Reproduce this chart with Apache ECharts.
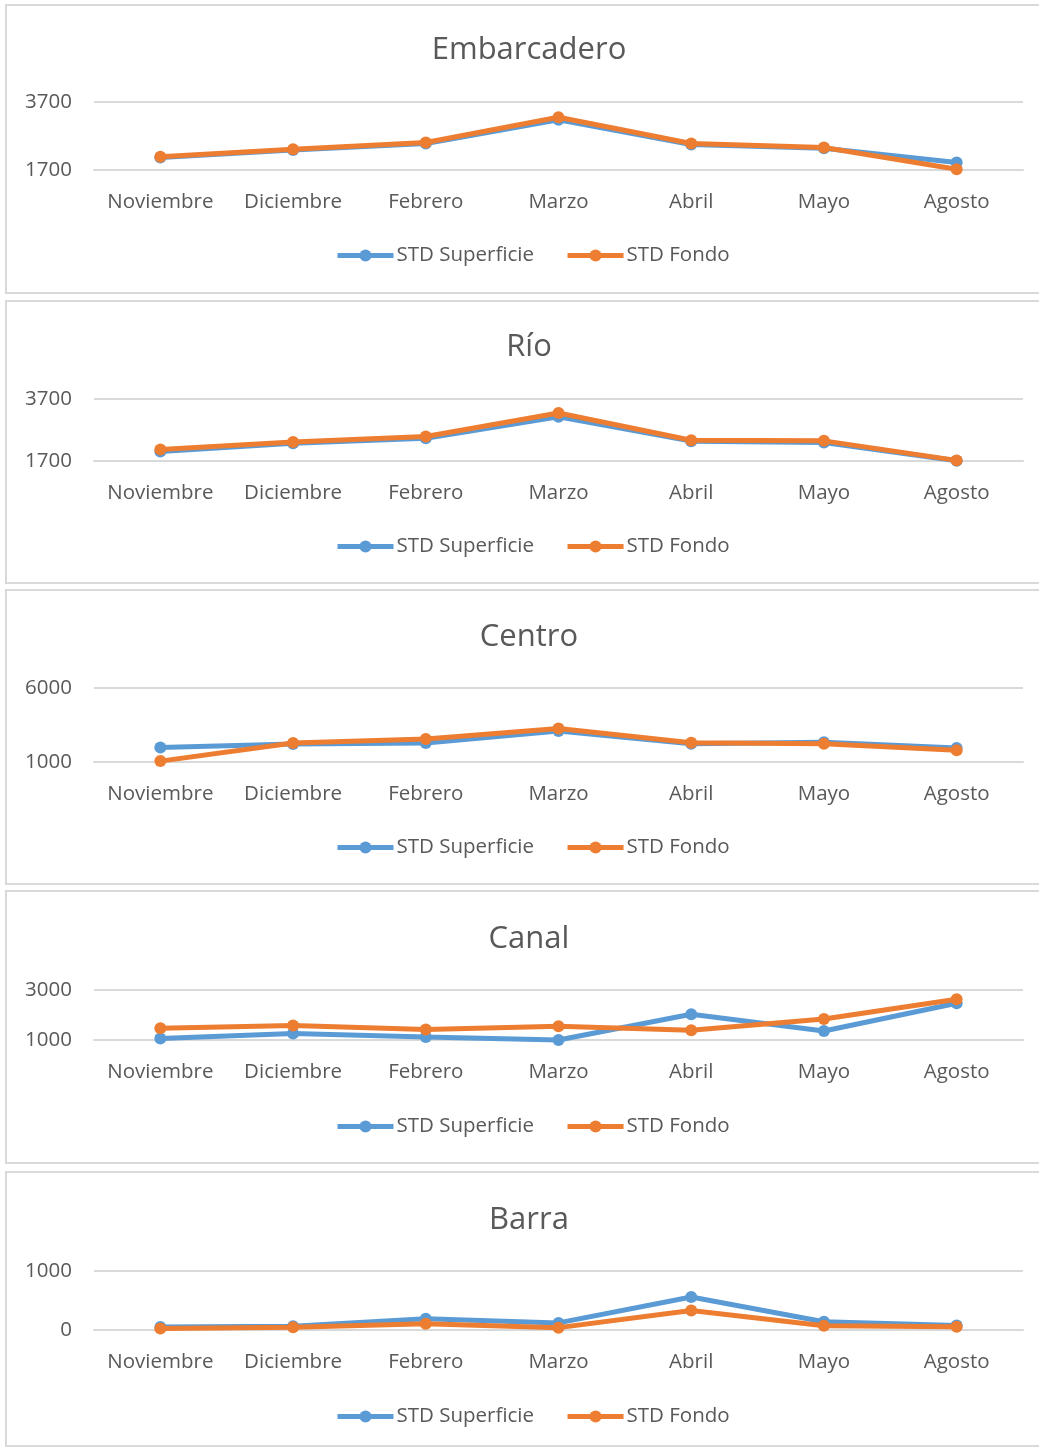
<!DOCTYPE html>
<html>
<head>
<meta charset="utf-8">
<title>STD Superficie / Fondo</title>
<script src="https://cdn.jsdelivr.net/npm/echarts@6/dist/echarts.min.js"></script>
<style>
  html, body { margin: 0; padding: 0; background: #ffffff; }
  #chart { width: 1039px; height: 1447px; }
</style>
</head>
<body>
<div id="chart"></div>
<script>
// Months sampled
const months = ['Noviembre', 'Diciembre', 'Febrero', 'Marzo', 'Abril', 'Mayo', 'Agosto'];
const seriesNames = ['STD Superficie', 'STD Fondo'];

// Site names (panel titles)
const sites = ['Embarcadero', 'Río', 'Centro', 'Canal', 'Barra'];

// STD values per site
const embarcaderoSuperficie = [2070, 2290, 2480, 3180, 2450, 2340, 1920];
const embarcaderoFondo      = [2090, 2310, 2510, 3250, 2480, 2360, 1720];
const rioSuperficie         = [2010, 2270, 2430, 3130, 2340, 2300, 1710];
const rioFondo              = [2070, 2310, 2490, 3250, 2370, 2350, 1720];
const centroSuperficie      = [1980, 2220, 2290, 3100, 2240, 2330, 1950];
const centroFondo           = [1060, 2280, 2560, 3270, 2300, 2240, 1790];
const canalSuperficie       = [1060, 1260, 1120, 1000, 2030, 1360, 2470];
const canalFondo            = [1470, 1580, 1420, 1550, 1390, 1840, 2630];
const barraSuperficie       = [50, 65, 190, 120, 560, 140, 75];
const barraFondo            = [25, 45, 105, 40, 330, 72, 55];

// Value-axis ticks per site: [min, max]
const embarcaderoTicks = [1700, 3700];
const rioTicks         = [1700, 3700];
const centroTicks      = [1000, 6000];
const canalTicks       = [1000, 3000];
const barraTicks       = [0, 1000];

const siteData = [
  [embarcaderoSuperficie, embarcaderoFondo, embarcaderoTicks],
  [rioSuperficie, rioFondo, rioTicks],
  [centroSuperficie, centroFondo, centroTicks],
  [canalSuperficie, canalFondo, canalTicks],
  [barraSuperficie, barraFondo, barraTicks]
];

// Panel layout (page pixels)
const panels = [
  { boxTop: 5,    boxBottom: 293,  titleY: 48,   plotTop: 102,  plotH: 68, legendY: 254 },
  { boxTop: 301,  boxBottom: 583,  titleY: 345,  plotTop: 399,  plotH: 62, legendY: 545 },
  { boxTop: 590,  boxBottom: 884,  titleY: 635,  plotTop: 688,  plotH: 74, legendY: 846 },
  { boxTop: 891,  boxBottom: 1163, titleY: 937,  plotTop: 990,  plotH: 50, legendY: 1125 },
  { boxTop: 1172, boxBottom: 1446, titleY: 1218, plotTop: 1271, plotH: 59, legendY: 1415 }
];

const FONT = '"Open Sans", "Noto Sans", sans-serif';
const TEXT = '#595959';
const GRID_LINE = '#d9d9d9';
const COLORS = ['#5b9bd5', '#ed7d31'];

const title = [], grid = [], xAxis = [], yAxis = [], series = [], legend = [], graphic = [];

panels.forEach((p, i) => {
  const [sup, fondo, ticks] = siteData[i];

  graphic.push({
    type: 'rect',
    silent: true,
    shape: { x: 6, y: p.boxTop, width: 1045, height: p.boxBottom - p.boxTop },
    style: { fill: 'none', stroke: GRID_LINE, lineWidth: 2 }
  });

  title.push({
    text: sites[i],
    left: 529,
    textAlign: 'center',
    top: p.titleY - 15,
    padding: 0,
    textStyle: { fontFamily: FONT, fontSize: 31, fontWeight: 'normal', color: TEXT, lineHeight: 34 }
  });

  grid.push({ left: 94, right: 16, top: p.plotTop, height: p.plotH, containLabel: false });

  xAxis.push({
    type: 'category',
    gridIndex: i,
    data: months,
    boundaryGap: true,
    axisLine: { show: true, lineStyle: { color: GRID_LINE, width: 2 } },
    axisTick: { show: false },
    axisLabel: { interval: 0, fontFamily: FONT, fontSize: 20.5, color: TEXT, margin: 22 }
  });

  yAxis.push({
    type: 'value',
    gridIndex: i,
    min: ticks[0],
    max: ticks[1],
    interval: ticks[1] - ticks[0],
    axisLine: { show: false },
    axisTick: { show: false },
    splitLine: { show: true, lineStyle: { color: GRID_LINE, width: 2 } },
    axisLabel: { fontFamily: FONT, fontSize: 20.5, color: TEXT, margin: 22, formatter: v => String(v) }
  });

  [sup, fondo].forEach((vals, k) => {
    series.push({
      name: seriesNames[k],
      type: 'line',
      xAxisIndex: i,
      yAxisIndex: i,
      data: vals,
      clip: false,
      symbol: 'circle',
      symbolSize: 12,
      lineStyle: { color: COLORS[k], width: 5 },
      itemStyle: { color: COLORS[k] },
      emphasis: { disabled: true },
      z: 2 + k
    });
  });

  legend.push({
    data: seriesNames,
    left: 335,
    top: p.legendY - 9,
    padding: 0,
    itemWidth: 56,
    itemHeight: 15,
    itemGap: 31,
    lineStyle: { width: 5 },
    textStyle: { fontFamily: FONT, fontSize: 20.5, color: TEXT, padding: [0, 0, 0, -2] }
  });
});

const chart = echarts.init(document.getElementById('chart'), null, { renderer: 'canvas' });
chart.setOption({
  animation: false,
  color: COLORS,
  title, grid, xAxis, yAxis, series, legend, graphic
});
</script>
</body>
</html>
